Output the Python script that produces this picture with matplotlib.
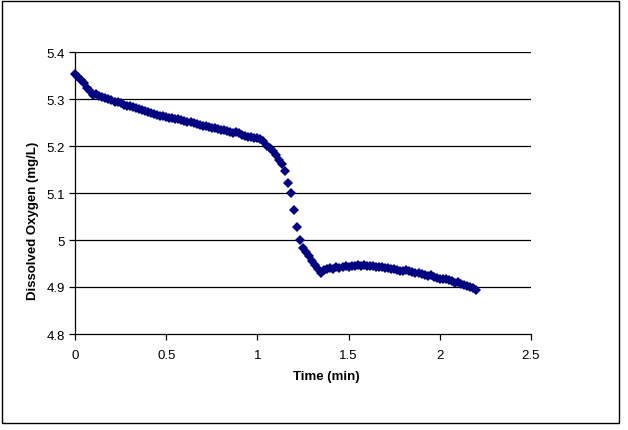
import numpy as np
import matplotlib
matplotlib.use("Agg")
import matplotlib.pyplot as plt
from matplotlib.patches import Rectangle

plt.rcParams['font.family'] = ['Liberation Sans', 'DejaVu Sans']

# dissolved oxygen readings, one per second (mg/L)
do_mgl = [
    5.353, 5.346, 5.340, 5.333, 5.324, 5.316, 5.308, 5.311, 5.307, 5.304,
    5.302, 5.300, 5.297, 5.294, 5.293, 5.291, 5.288, 5.286, 5.285, 5.283,
    5.280, 5.278, 5.276, 5.274, 5.272, 5.270, 5.269, 5.266, 5.264, 5.263,
    5.261, 5.259, 5.259, 5.257, 5.257, 5.256, 5.254, 5.252, 5.251, 5.249,
    5.247, 5.245, 5.243, 5.242, 5.240, 5.239, 5.238, 5.236, 5.235, 5.233,
    5.231, 5.229, 5.228, 5.230, 5.227, 5.224, 5.222, 5.220, 5.219, 5.217,
    5.216, 5.214, 5.210, 5.201, 5.195, 5.189, 5.181, 5.171, 5.162, 5.147,
    5.122, 5.101, 5.064, 5.027, 5.000, 4.982, 4.975, 4.967, 4.956, 4.947,
    4.938, 4.930, 4.937, 4.939, 4.940, 4.939, 4.942, 4.940, 4.943, 4.944,
    4.943, 4.944, 4.945, 4.946, 4.945, 4.946, 4.945, 4.944, 4.945, 4.943,
    4.942, 4.943, 4.941, 4.940, 4.938, 4.939, 4.936, 4.933, 4.935, 4.936,
    4.933, 4.931, 4.930, 4.929, 4.927, 4.925, 4.923, 4.925, 4.922, 4.920,
    4.918, 4.916, 4.917, 4.914, 4.912, 4.909, 4.910, 4.907, 4.905, 4.902,
    4.900, 4.897, 4.894,
]
time_sec = list(range(len(do_mgl)))
time_min = np.array(time_sec) / 60.0

x_ticks = [0, 0.5, 1, 1.5, 2, 2.5]
x_labels = ['0', '0.5', '1', '1.5', '2', '2.5']
y_ticks = [4.8, 4.9, 5.0, 5.1, 5.2, 5.3, 5.4]
y_labels = ['4.8', '4.9', '5', '5.1', '5.2', '5.3', '5.4']

W, H = 628, 431
fig = plt.figure(figsize=(W / 100, H / 100), dpi=100)
fig.patch.set_facecolor('white')

# outer chart border
fig.patches.append(Rectangle((2 / W, (H - 424) / H), 617 / W, 422 / H,
                             transform=fig.transFigure, fill=False,
                             edgecolor='black', linewidth=1.0))

ax = fig.add_axes([75 / W, (H - 335) / H, 456 / W, 282 / H])
ax.plot(time_min, do_mgl, linestyle='none', marker='D', markersize=4.6,
        color='#000080', markeredgewidth=0, clip_on=False, zorder=3)

ax.set_xlim(0, 2.5)
ax.set_ylim(4.8, 5.4)
ax.set_xticks(x_ticks)
ax.set_xticklabels(x_labels)
ax.set_yticks(y_ticks)
ax.set_yticklabels(y_labels)
for y in y_ticks[1:]:
    ax.axhline(y, color='black', linewidth=0.9, zorder=1)

for side in ['top', 'right']:
    ax.spines[side].set_visible(False)
for side in ['left', 'bottom']:
    ax.spines[side].set_linewidth(0.9)
ax.tick_params(direction='out', length=4, width=0.9, labelsize=9.5, pad=3)
ax.tick_params(axis='x', pad=7)

fig.text(326 / W, 1 - 377 / H, 'Time (min)', ha='center', va='center',
         fontsize=9.5, fontweight='bold')
fig.text(33 / W, 1 - 221 / H, 'Dissolved Oxygen (mg/L)', ha='center',
         va='center', rotation=90, fontsize=9.5, fontweight='bold')

fig.savefig('out.png', dpi=100)
